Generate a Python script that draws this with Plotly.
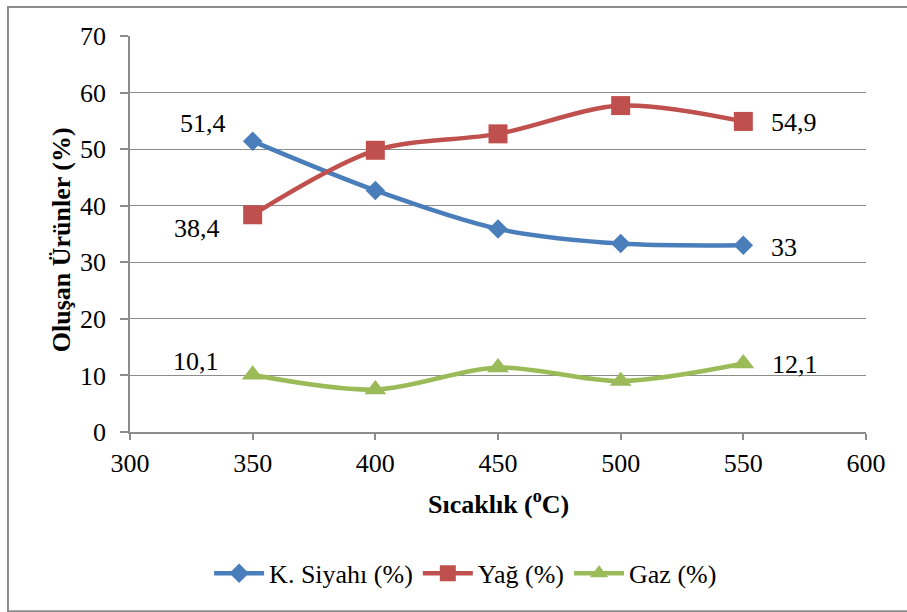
import plotly.graph_objects as go

# Pyrolysis product yields versus temperature
sicaklik = [350, 400, 450, 500, 550]
k_siyahi = [51.4, 42.7, 35.9, 33.3, 33.0]
yag = [38.4, 49.8, 52.7, 57.7, 54.9]
gaz = [10.1, 7.5, 11.4, 9.0, 12.1]

x_ticks = [300, 350, 400, 450, 500, 550, 600]
y_ticks = [0, 10, 20, 30, 40, 50, 60, 70]

x_title = "<b>Sıcaklık (<sup>o</sup>C)</b>"
y_title = "<b>Oluşan Ürünler (%)</b>"

FONT = "Liberation Serif"
BLUE = "#4A7EBB"
RED = "#C0504D"
GREEN = "#9BBB59"
GRID = "#8c8c8c"

fig = go.Figure()

series = [
    ("K. Siyahı (%)", k_siyahi, BLUE, "diamond", 15),
    ("Yağ (%)", yag, RED, "square", 19),
    ("Gaz (%)", gaz, GREEN, "triangle-up", 19),
]
for name, vals, color, symbol, msize in series:
    fig.add_trace(go.Scatter(
        x=sicaklik, y=vals, name=name, mode="lines+markers",
        line=dict(color=color, width=4.5, shape="spline", smoothing=0.9),
        marker=dict(symbol=symbol, size=msize, color=color),
    ))


def fmt(v):
    s = f"{v:.1f}".replace(".", ",")
    return s[:-2] if s.endswith(",0") else s


# Value labels at the first and last points of each series
labels = [
    (sicaklik[0], k_siyahi[0], "right", -25, 18),
    (sicaklik[0], yag[0], "right", -31, -14),
    (sicaklik[0], gaz[0], "right", -32, 13),
    (sicaklik[-1], yag[-1], "left", 26, -1),
    (sicaklik[-1], k_siyahi[-1], "left", 26, -2),
    (sicaklik[-1], gaz[-1], "left", 27, -1),
]
for x, y, anchor, dx, dy in labels:
    fig.add_annotation(
        x=x, y=y, text=fmt(y), showarrow=False,
        xanchor=anchor, yanchor="middle", xshift=dx, yshift=dy,
        font=dict(family=FONT, size=26, color="#000"),
    )

# Axis titles
fig.add_annotation(
    xref="paper", yref="paper", x=0.5, y=-0.179, text=x_title,
    showarrow=False, xanchor="center", yanchor="middle",
    font=dict(family=FONT, size=26, color="#000"),
)
fig.add_annotation(
    xref="paper", yref="paper", x=-0.092, y=0.485, text=y_title,
    showarrow=False, xanchor="center", yanchor="middle", textangle=-90,
    font=dict(family=FONT, size=26, color="#000"),
)

# Chart frame
fig.add_shape(
    type="rect", xref="paper", yref="paper",
    x0=-0.1658, x1=1.07, y0=-0.4525, y1=1.0735,
    line=dict(color=GRID, width=2), layer="below",
)

fig.update_layout(
    width=907, height=612,
    margin=dict(l=130, r=41, t=36, b=180, autoexpand=False),
    paper_bgcolor="white", plot_bgcolor="white",
    font=dict(family=FONT, size=26, color="#000"),
    showlegend=True,
    legend=dict(
        orientation="h", x=0.456, xanchor="center", y=-0.357, yanchor="middle",
        font=dict(family=FONT, size=26), itemwidth=50,
        bgcolor="rgba(0,0,0,0)", tracegroupgap=0,
    ),
    xaxis=dict(
        range=[300, 600], tickvals=x_ticks, ticktext=[str(t) for t in x_ticks],
        showgrid=False, zeroline=False, showline=True, linecolor=GRID,
        linewidth=1.5, ticks="outside", ticklen=6, tickcolor=GRID,
        tickwidth=1.5, ticklabelstandoff=1,
        tickfont=dict(family=FONT, size=26),
    ),
    yaxis=dict(
        range=[0, 70], tickvals=y_ticks, ticktext=[str(t) for t in y_ticks],
        showgrid=True, gridcolor=GRID, gridwidth=1.3, zeroline=False,
        showline=True, linecolor=GRID, linewidth=1.5, ticks="outside",
        ticklen=8, tickcolor=GRID, tickwidth=1.5, ticklabelstandoff=9,
        tickfont=dict(family=FONT, size=26),
    ),
)

fig.write_html("out.html")
